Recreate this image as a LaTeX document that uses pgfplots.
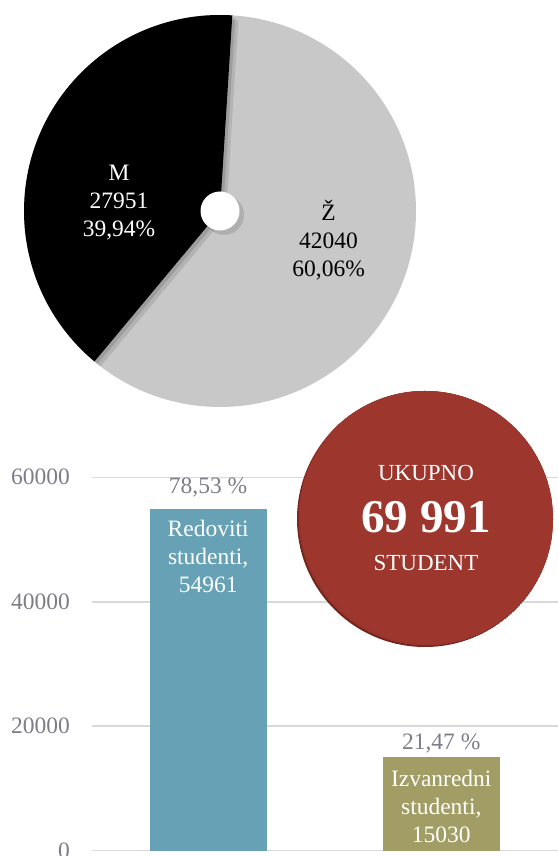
\documentclass[border=0pt]{standalone}
\usepackage{fontspec}
\setmainfont{Liberation Serif}
\usepackage{pgfplots}
\usepackage{pgfplotstable}
\pgfplotsset{compat=1.18}

\definecolor{barblue}{RGB}{103,161,181}
\definecolor{barolive}{RGB}{161,157,101}
\definecolor{totred}{RGB}{157,55,46}
\definecolor{totdark}{RGB}{115,36,30}
\definecolor{piegray}{RGB}{200,200,200}
\definecolor{gridgray}{RGB}{217,217,217}
\definecolor{ticktext}{RGB}{125,125,138}

% spol: M / Z
\pgfplotstableread{
label value
M 27951
Z 42040
}\piedata

\newcommand{\lbl}{\fontsize{23.5}{28}\selectfont}

\begin{document}
\begin{tikzpicture}[x=1pt,y=1pt]
\useasboundingbox (0pt,0pt) rectangle (557pt,856pt);

\pgfplotstablegetelem{0}{value}\of\piedata \edef\vM{\pgfplotsretval}
\pgfplotstablegetelem{1}{value}\of\piedata \edef\vZ{\pgfplotsretval}
\edef\aM{\fpeval{360*\vM/(\vM+\vZ)}}
\def\startA{86.4}

% ---- pie ----
\begin{axis}[
    at={(24pt,449pt)}, anchor=south west,
    scale only axis, width=392pt, height=392pt,
    xmin=-196, xmax=196, ymin=-196, ymax=196,
    hide axis, clip=false]
    \fill[piegray] (axis cs:0,0) circle[radius=196pt];
    \begin{scope}
        \clip (axis cs:0,0) circle[radius=196pt];
        \fill[black, opacity=0.10] ([shift={(6pt,-5pt)}]axis cs:0,0) -- ++(\startA:196pt)
            arc[start angle=\startA, delta angle=\aM, radius=196pt] -- cycle;
        \fill[black, opacity=0.12] ([shift={(3pt,-2.5pt)}]axis cs:0,0) -- ++(\startA:196pt)
            arc[start angle=\startA, delta angle=\aM, radius=196pt] -- cycle;
        \fill[black] (axis cs:0,0) -- ++(\startA:196pt)
            arc[start angle=\startA, delta angle=\aM, radius=196pt] -- cycle;
    \end{scope}
    \fill[black, opacity=0.12] ([shift={(4pt,-4pt)}]axis cs:0,0) circle[radius=20pt];
    \fill[white] (axis cs:0,0) circle[radius=19.5pt];
    \node[white, align=center, font=\lbl] at (axis cs:-101,8) {M\\27951\\39,94\%};
    \node[black, align=center, font=\lbl] at (axis cs:108.6,-29) {Ž\\42040\\60,06\%};
\end{axis}

% ---- bars ----
\begin{axis}[
    at={(91.6pt,5.3pt)}, anchor=south west,
    scale only axis, width=466.2pt, height=373.4pt,
    xmin=-0.5, xmax=1.5, ymin=0, ymax=60000,
    axis line style={draw=none},
    xtick=\empty,
    ytick={0,20000,40000,60000},
    ymajorgrids, grid style={gridgray, line width=1.5pt},
    tick style={draw=none},
    scaled y ticks=false,
    /pgf/number format/1000 sep={},
    /pgf/number format/assume math mode=true,
    yticklabel style={inner sep=0pt, anchor=east, xshift=-21.6pt,
        font=\lbl, text=ticktext},
    clip=false,
    ybar, bar width=116.9pt, bar shift=0pt,
    point meta=explicit symbolic,
    nodes near coords,
    every node near coord/.append style={anchor=base, inner sep=0pt,
        font=\lbl, text=ticktext}]
    \addplot[fill=barblue, draw=none,
        every node near coord/.append style={yshift=15pt}]
        coordinates {(0,54961) [{78,53 \%}]};
    \addplot[fill=barolive, draw=none,
        every node near coord/.append style={yshift=8pt}]
        coordinates {(1,15030) [{21,47 \%}]};
    \node[white, align=center, font=\lbl, anchor=north, inner sep=0pt, yshift=-11pt]
        at (axis cs:0,54961) {Redoviti\\studenti,\\54961};
    \node[white, align=center, font=\lbl, anchor=north, inner sep=0pt, yshift=-13pt]
        at (axis cs:1,15030) {Izvanredni\\studenti,\\15030};
\end{axis}

% ---- ukupno ----
\begin{scope}
    \clip (425pt,337pt) circle (128pt);
    \fill[totdark] (425pt,337pt) circle (128pt);
    \fill[totred!85!totdark] (426.5pt,338.5pt) circle (128pt);
    \fill[totred] (428pt,340pt) circle (128pt);
\end{scope}
\node[white, font=\fontsize{23}{28}\selectfont] at (426pt,383pt) {UKUPNO};
\node[white, font=\fontsize{47}{50}\selectfont\bfseries] at (426pt,339.3pt) {69 991};
\node[white, font=\fontsize{23}{28}\selectfont] at (426pt,293pt) {STUDENT};
\end{tikzpicture}
\end{document}
